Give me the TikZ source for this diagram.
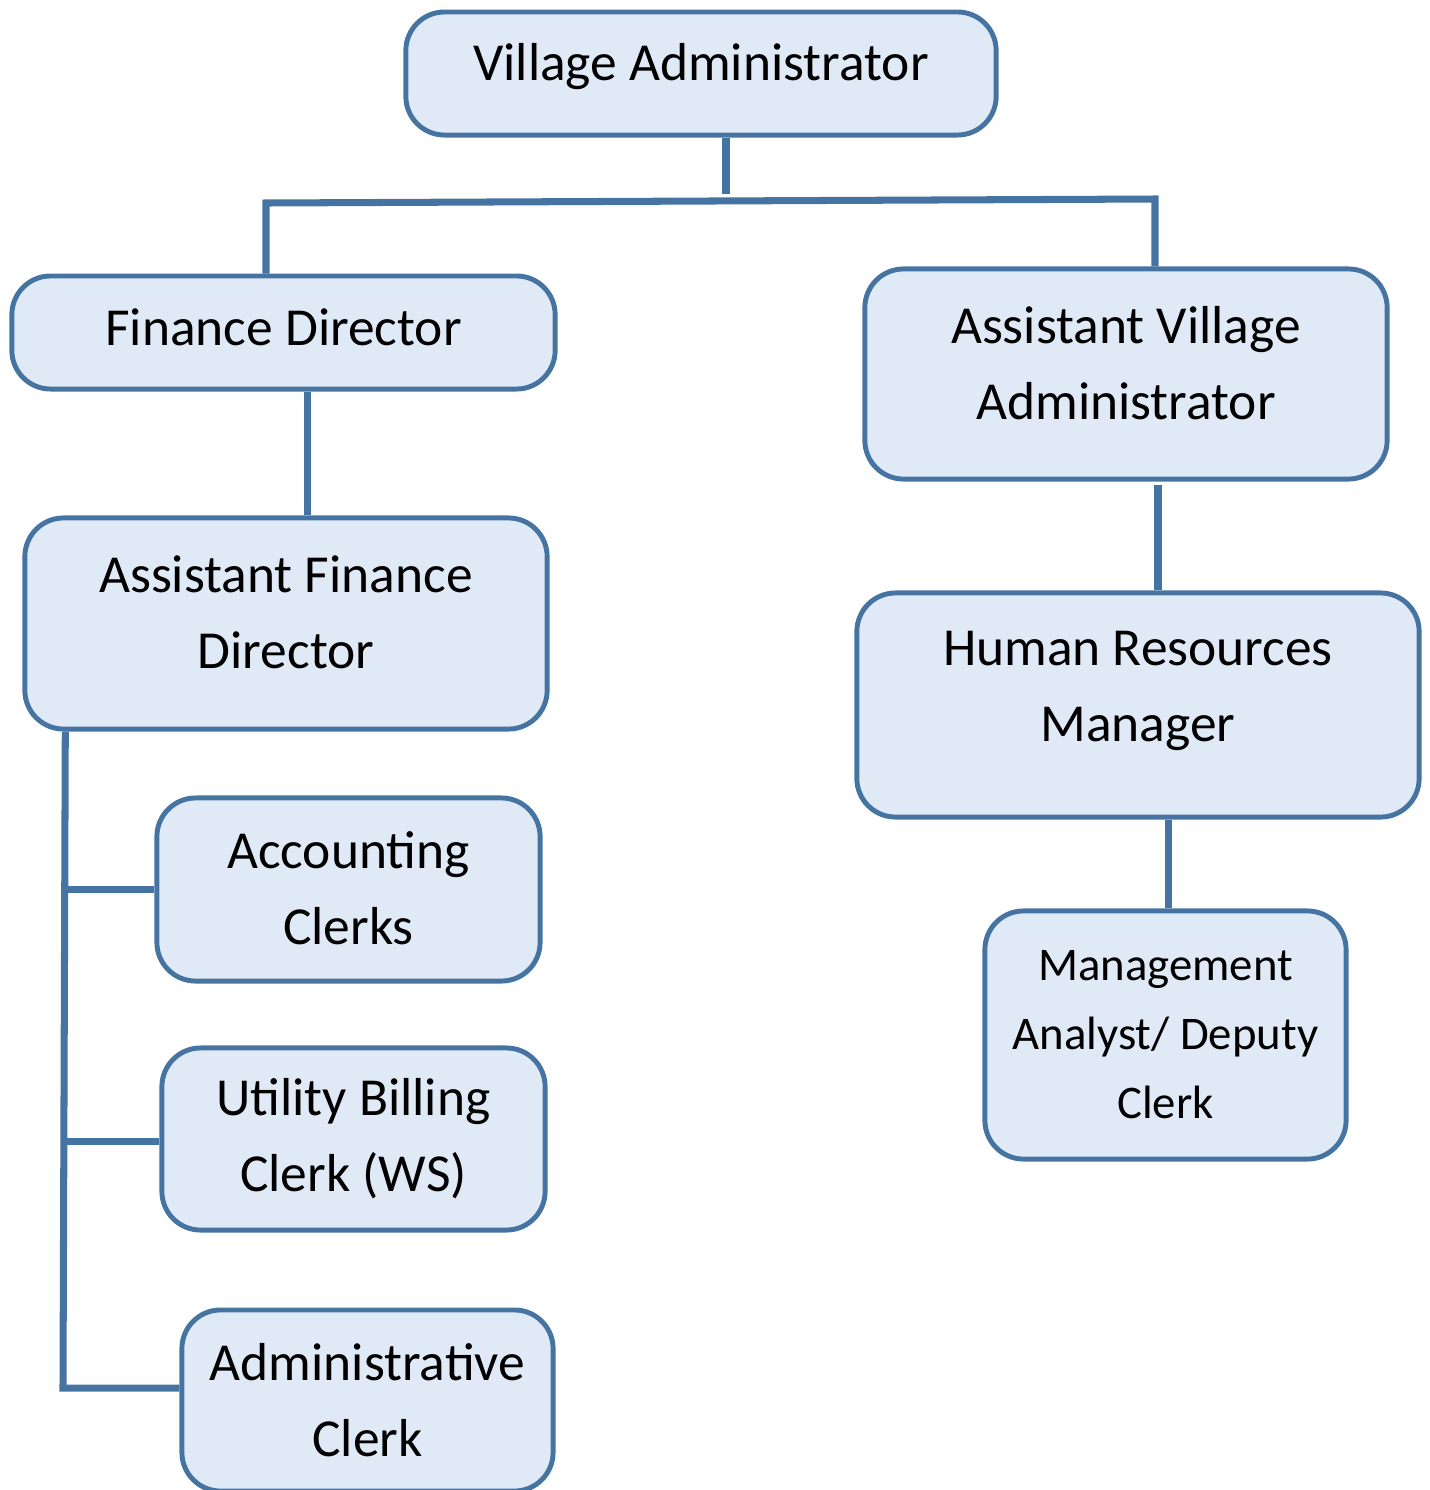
\documentclass[tikz,border=0pt]{standalone}
\usepackage{fontspec}
\setmainfont{Carlito}
\usepackage{tikz}
\usetikzlibrary{calc}
\definecolor{postline}{HTML}{4674A2}
\definecolor{postfill}{HTML}{DFEAF6}
\begin{document}
\begin{tikzpicture}[x=0.01cm,y=-0.01cm]
\tikzstyle{post}=[draw=postline,fill=postfill,line width=1.4pt,rounded corners=11pt,inner sep=0pt]
\tikzstyle{posttext}=[font=\fontsize{15.2}{21.6}\selectfont,align=center,text=black]
\tikzstyle{link}=[draw=postline,line width=2pt]
\useasboundingbox (0,0) rectangle (1429,1490);
\foreach \name/\point/\w/\h/\dy/\txt in {
	va/{701,73.5}/5.90/1.23/2/{Village Administrator},
	fd/{283.5,332.5}/5.43/1.13/1.6/{Finance Director},
	ava/{1126,374}/5.22/2.10/3.2/{Assistant Village\\Administrator},
	afd/{286,623.5}/5.22/2.11/3.2/{Assistant Finance\\Director},
	hrm/{1138,705}/5.62/2.24/4/{Human Resources\\Manager},
	ac/{348.5,889.5}/3.83/1.83/0.4/{Accounting\\Clerks},
	ubc/{353.5,1139}/3.83/1.82/0.2/{Utility Billing\\Clerk (WS)},
	adc/{367.5,1400.5}/3.71/1.81/0/{Administrative\\Clerk}}
	\node[post,minimum width=\w cm,minimum height=\h cm,
	  label={[posttext,yshift=\dy pt]center:\txt}] (\name) at (\point) {};
\node[post,minimum width=3.61cm,minimum height=2.48cm,
  label={[posttext,font=\fontsize{13.3}{19.6}\selectfont]center:Management\\Analyst/ Deputy\\Clerk}] (mad) at (1165.5,1035) {};
% connectors
\coordinate (busM) at (726,194);
\coordinate (busL) at (266,203);
\coordinate (busR) at (1155,199);
\coordinate (spine) at (63,1388);
\draw[link] (va.south -| busM) -- (busM);
\draw[link] (busL |- fd.north) -- (busL) -- (busR) -- (busR |- ava.north);
\draw[link] ([xshift=6.7pt]fd.south) -- ([xshift=6.7pt]fd.south |- afd.north);
\draw[link] ([xshift=9.1pt,yshift=-1pt]ava.south) -- ([xshift=9.1pt]ava.south |- hrm.north);
\draw[link] ([xshift=8.8pt]hrm.south) -- ([xshift=8.8pt]hrm.south |- mad.north);
\draw[link] ([xshift=12.2pt]afd.south west) -- (spine) -- (spine -| adc.west);
\draw[link] (ac.west) -- (ac.west -| spine);
\draw[link] ([yshift=-0.6pt]ubc.west) -- ([yshift=-0.6pt]ubc.west -| spine);
\end{tikzpicture}
\end{document}
